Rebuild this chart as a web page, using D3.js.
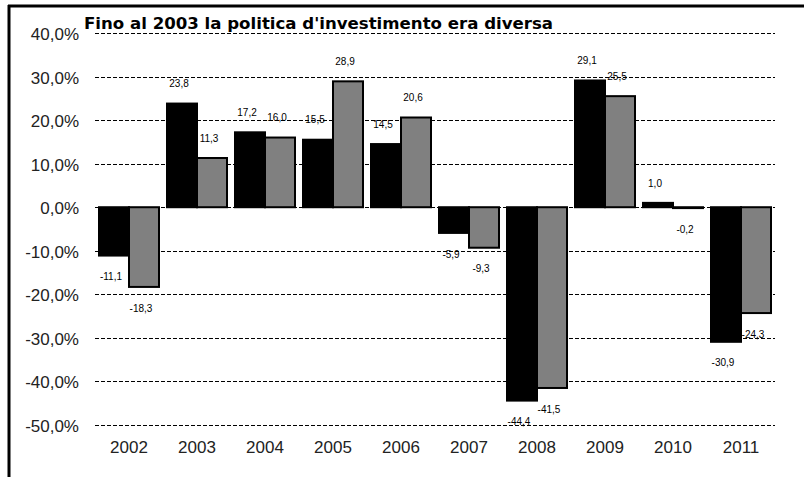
<!DOCTYPE html>
<html>
<head>
<meta charset="utf-8">
<script src="https://cdn.jsdelivr.net/npm/d3@7"></script>
<style>
  html, body { margin: 0; padding: 0; background: #fff; }
  svg { display: block; }
</style>
</head>
<body>
<svg id="chart" width="804" height="477"></svg>
<script>
const years = ["2002","2003","2004","2005","2006","2007","2008","2009","2010","2011"];
const seriesBlack = [-11.1, 23.8, 17.2, 15.5, 14.5, -5.9, -44.4, 29.1, 1.0, -30.9];
const seriesGray  = [-18.3, 11.3, 16.0, 28.9, 20.6, -9.3, -41.5, 25.5, -0.2, -24.3];
const yTicks = [40, 30, 20, 10, 0, -10, -20, -30, -40, -50];
const titleText = "Fino al 2003 la politica d'investimento era diversa";

const svg = d3.select("#chart");
const W = 804, H = 477;
const plot = { left: 95, right: 775, top: 33, bottom: 425 };

const x = d3.scaleBand().domain(years).range([plot.left, plot.right])
  .paddingInner(8/68).paddingOuter(4/68);
const x1 = d3.scaleBand().domain([0, 1]).range([0, x.bandwidth()]);
const y = d3.scaleLinear().domain([-50, 40]).range([plot.bottom, plot.top]);

const fmt = v => d3.format(".1f")(v).replace(".", ",").replace("−", "-");

// frame
svg.append("line").attr("x1", 8).attr("x2", W).attr("y1", 6).attr("y2", 6)
  .attr("stroke", "#000").attr("stroke-width", 3);
svg.append("line").attr("x1", 9).attr("x2", 9).attr("y1", 5).attr("y2", H)
  .attr("stroke", "#000").attr("stroke-width", 3);

// gridlines
svg.append("g").selectAll("line").data(yTicks).join("line")
  .attr("x1", plot.left).attr("x2", plot.right)
  .attr("y1", d => Math.round(y(d)) + 0.5).attr("y2", d => Math.round(y(d)) + 0.5)
  .attr("stroke", "#000").attr("stroke-width", 1).attr("stroke-dasharray", "4,2");

// y axis labels
const yAxis = d3.axisLeft(y).tickValues(yTicks).tickSize(0).tickPadding(0)
  .tickFormat(d => fmt(d) + "%");
const gy = svg.append("g").attr("transform", `translate(79,1)`).call(yAxis);
gy.select(".domain").remove();
gy.selectAll("text").attr("font-family", "'Liberation Sans', Arial, sans-serif")
  .attr("font-size", 17).attr("fill", "#222");

// x axis labels
const xAxis = d3.axisBottom(x).tickSize(0).tickPadding(0);
const gx = svg.append("g").attr("transform", `translate(0,441)`).call(xAxis);
gx.select(".domain").remove();
gx.selectAll("text").attr("font-family", "'Liberation Sans', Arial, sans-serif")
  .attr("font-size", 17).attr("fill", "#222");

// bars
const data = [];
years.forEach((yr, i) => {
  data.push({ yr, s: 0, v: seriesBlack[i] });
  data.push({ yr, s: 1, v: seriesGray[i] });
});
const colors = ["#000000", "#808080"];

svg.append("g").selectAll("rect").data(data).join("rect")
  .attr("x", d => x(d.yr) + x1(d.s))
  .attr("width", x1.bandwidth())
  .attr("y", d => Math.min(y(d.v), y(0)))
  .attr("height", d => Math.abs(y(d.v) - y(0)))
  .attr("fill", d => colors[d.s])
  .attr("stroke", "#000").attr("stroke-width", 2);

// value labels
svg.append("g").selectAll("text").data(data).join("text")
  .attr("x", d => x(d.yr) + x1(d.s) + x1.bandwidth() / 2 - 3)
  .attr("y", d => d.v >= 0 ? y(d.v) - 19 : y(d.v) + 22)
  .attr("text-anchor", "middle").attr("dominant-baseline", "middle")
  .attr("font-family", "'Liberation Sans', Arial, sans-serif")
  .attr("font-size", 10).attr("fill", "#000")
  .text(d => fmt(d.v));

// title
svg.append("text").attr("x", 84).attr("y", 29)
  .attr("font-family", "'DejaVu Sans', Verdana, sans-serif")
  .attr("font-weight", "bold").attr("font-size", 16)
  .attr("textLength", 469).attr("lengthAdjust", "spacingAndGlyphs")
  .attr("fill", "#000").text(titleText);
</script>
</body>
</html>
